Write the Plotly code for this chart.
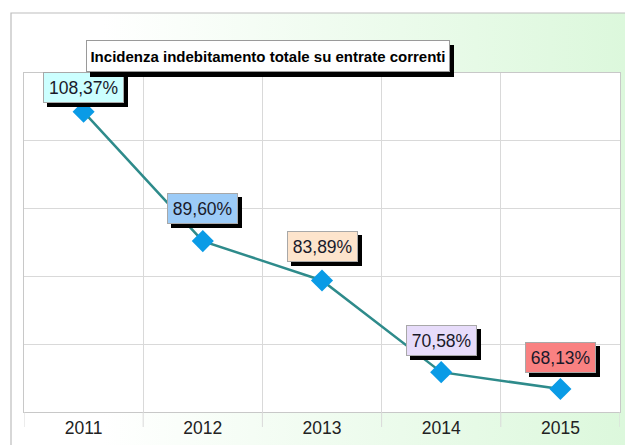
import base64
import plotly.graph_objects as go

# data
years = ["2011", "2012", "2013", "2014", "2015"]
values = [108.37, 89.60, 83.89, 70.58, 68.13]
label_fills = ["#CCFFFF", "#9CCBF7", "#FDE4CC", "#E7DCFA", "#F98181"]
title_text = "Incidenza indebitamento totale su entrate correnti"

# styling
label_shift = [24, 33, 34, 32, 32]  # px above the point
line_color = "#2E8B8B"
marker_color = "#0A9BE6"
grid_color = "#D9D9D9"
frame_color = "#BDBDBD"
font_main = "Liberation Sans, Arial, sans-serif"
label_size = 17.5

W, H = 625, 445
L, R, T, B = 24, 5, 73, 33
pw, ph = W - L - R, H - T - B

# rough Arial advance widths (em) for the label characters
char_em = {",": 0.278, "%": 0.889}


def text_px(s, size):
    return sum(char_em.get(c, 0.556) for c in s) * size


def px_x(p):
    return (p - L) / pw


def px_y(p):
    return (H - B - p) / ph


svg = (
    "<svg xmlns='http://www.w3.org/2000/svg' width='100' height='100' preserveAspectRatio='none'>"
    "<defs><linearGradient id='g' x1='0' y1='0' x2='1' y2='0'>"
    "<stop offset='0' stop-color='#ffffff'/><stop offset='0.15' stop-color='#ffffff'/>"
    "<stop offset='1' stop-color='#dcf8dc'/></linearGradient></defs>"
    "<rect width='100' height='100' fill='url(#g)'/></svg>"
)
grad_src = "data:image/svg+xml;base64," + base64.b64encode(svg.encode()).decode()

fig = go.Figure()
fig.add_trace(go.Scatter(
    x=years,
    y=values,
    mode="lines+markers",
    line=dict(color=line_color, width=2.5),
    marker=dict(symbol="diamond", size=17, color=marker_color),
    hoverinfo="skip",
))

# value labels with a black drop shadow (category axis -> serial index for x)
for i, (v, fill, sh) in enumerate(zip(values, label_fills, label_shift)):
    txt = f"{v:.2f}".replace(".", ",") + "%"
    bw = round(text_px(txt, label_size)) + 2
    common = dict(x=i, y=v, xref="x", yref="y", showarrow=False,
                  borderpad=4, borderwidth=1, width=bw, height=21)
    # shadow box (no text)
    fig.add_annotation(**common, text=" ", xshift=4, yshift=sh - 4, bgcolor="black",
                       bordercolor="black", font=dict(family=font_main, size=label_size))
    fig.add_annotation(**common, text=txt, yshift=sh, bgcolor=fill, bordercolor="#A8A8A8",
                       font=dict(family=font_main, size=label_size, color="#1A1A2A"))

# chart title box with shadow
tcommon = dict(x=px_x(268), y=px_y(40), xref="paper", yref="paper", showarrow=False,
               borderpad=2, borderwidth=1, width=358, height=26)
fig.add_annotation(**tcommon, text=" ", xshift=4, yshift=-5, bgcolor="black", bordercolor="black",
                   font=dict(family=font_main, size=15))
fig.add_annotation(**tcommon, text=f"<b>{title_text}</b>", bgcolor="white", bordercolor="#9A9A9A",
                   font=dict(family=font_main, size=15, color="black"))

shapes = [
    # white plot area over the gradient
    dict(type="rect", xref="paper", yref="paper", x0=0, x1=1, y0=0, y1=1,
         fillcolor="white", line=dict(width=0), layer="below"),
    # outer frame (right and bottom edges fall outside the picture)
    dict(type="rect", xref="paper", yref="paper", x0=px_x(11), x1=px_x(640),
         y0=px_y(460), y1=px_y(13), line=dict(color=frame_color, width=1.2), layer="below"),
]
# tick marks below the axis at category boundaries
for i in range(len(years) + 1):
    shapes.append(dict(type="line", xref="x", yref="paper", x0=i - 0.5, x1=i - 0.5,
                       y0=0, y1=-15 / ph, line=dict(color=grid_color, width=1)))

fig.update_layout(
    width=W,
    height=H,
    margin=dict(l=L, r=R, t=T, b=B),
    paper_bgcolor="white",
    plot_bgcolor="white",
    showlegend=False,
    shapes=shapes,
    images=[dict(source=grad_src, xref="paper", yref="paper", x=px_x(11), y=px_y(13),
                 sizex=px_x(W) - px_x(11), sizey=px_y(13) - px_y(H), sizing="stretch",
                 xanchor="left", yanchor="top", layer="below")],
    xaxis=dict(
        type="category",
        range=[-0.5, len(years) - 0.5],
        tickson="boundaries",
        showgrid=True,
        gridcolor=grid_color,
        showline=True,
        linecolor="#C8C8C8",
        mirror=True,
        ticks="",
        tickfont=dict(family=font_main, size=label_size, color="#222222"),
        fixedrange=True,
    ),
    yaxis=dict(
        range=[64.8, 114.0],
        tick0=64.8,
        dtick=(114.0 - 64.8) / 5,
        showgrid=True,
        gridcolor=grid_color,
        showticklabels=False,
        zeroline=False,
        showline=True,
        linecolor="#C8C8C8",
        mirror=True,
        ticks="",
        fixedrange=True,
    ),
)

fig.write_html("out.html", config={"displayModeBar": False},
               post_script="document.body.style.margin='0';")
